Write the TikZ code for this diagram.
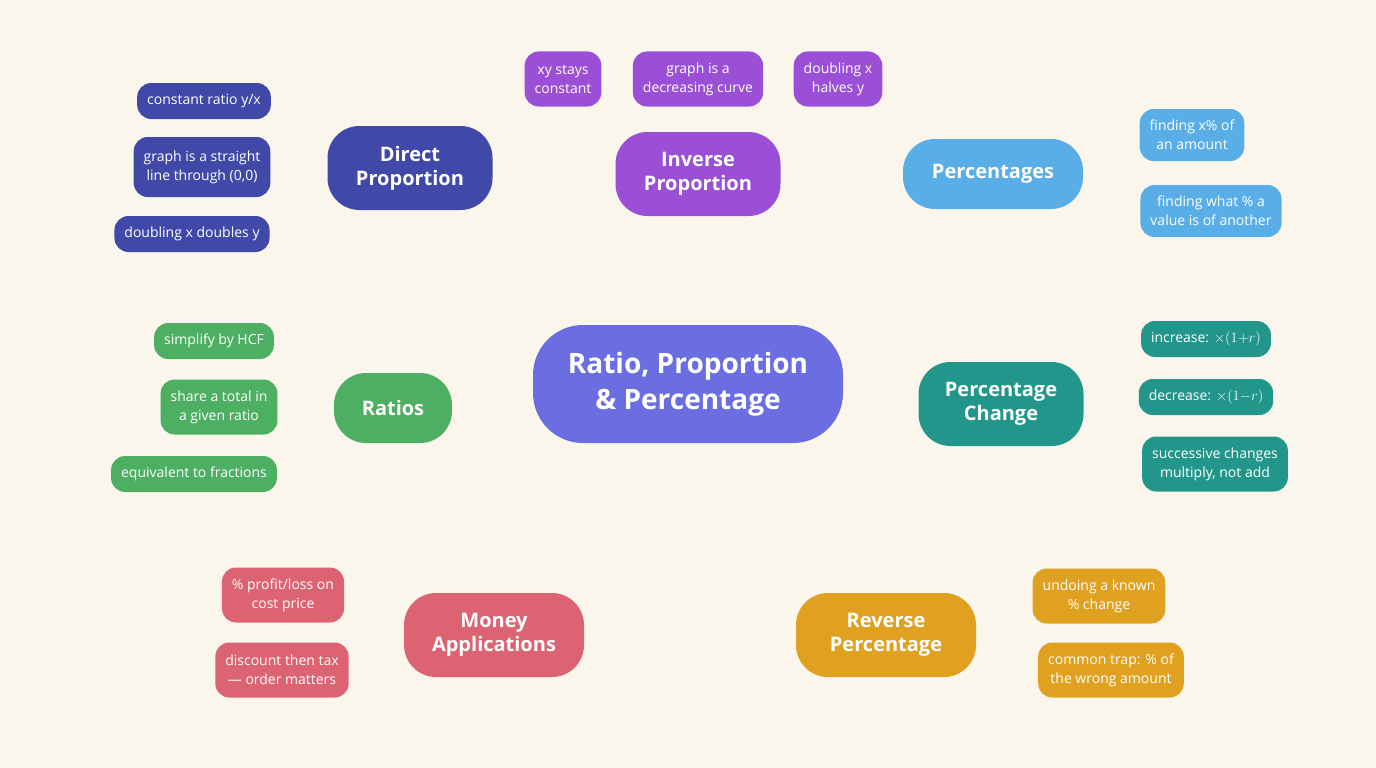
\documentclass[tikz,border=0pt]{standalone}
\usepackage{fontspec}
\setmainfont{Open Sans}
\usetikzlibrary{positioning,backgrounds}
\definecolor{bgc}{HTML}{FBF6EC}
\definecolor{cmain}{HTML}{6A6EE0}
\definecolor{cdp}{HTML}{4049A8}
\definecolor{cip}{HTML}{9A4FD6}
\definecolor{cpc}{HTML}{5AAEE8}
\definecolor{cch}{HTML}{22968A}
\definecolor{cra}{HTML}{4CAF62}
\definecolor{cma}{HTML}{DC6372}
\definecolor{crp}{HTML}{E0A020}
\tikzset{
  main node/.style = {rounded corners=32pt,fill=#1,text=white,align=center,font=\fontsize{20}{24}\selectfont\bfseries,minimum height=84pt,inner sep=6pt},
  leaf node/.style = {rounded corners=14pt,fill=#1,text=white,align=center,font=\fontsize{14}{19}\selectfont,minimum height=36pt,inner xsep=10pt},
  trunk/.style = {draw=#1,line width=10pt,line cap=round},
  twig/.style = {draw=#1,line width=4pt,line cap=round}
}
\begin{document}
\begin{tikzpicture}[x=1pt,y=-1pt]
\fill[bgc] (0,0) rectangle (1376,768);
\useasboundingbox (0,0) rectangle (1376,768);

\node[main node=cmain,minimum width=310pt,minimum height=118pt,rounded corners=50pt,font=\fontsize{28}{36}\selectfont\bfseries] (c) at (688,384) {Ratio, Proportion\\\& Percentage};

% main topics
\node[main node=cdp,minimum width=165pt] (dp) at (410,168) {Direct\\Proportion};
\node[main node=cip,minimum width=165pt] (ip) at (698,174) {Inverse\\Proportion};
\node[main node=cpc,minimum width=180pt,minimum height=70pt] (pc) at (993,174) {Percentages};
\node[main node=cch,minimum width=165pt] (ch) at (1001,404) {Percentage\\Change};
\node[main node=cra,minimum width=118pt,minimum height=70pt] (ra) at (393,408) {Ratios};
\node[main node=cma,minimum width=180pt] (ma) at (494,635) {Money\\Applications};
\node[main node=crp,minimum width=180pt] (rp) at (886,635) {Reverse\\Percentage};

% leaves
\node[leaf node=cdp] (dp1) at (204,101) {constant ratio y/x};
\node[leaf node=cdp,minimum height=60pt] (dp2) at (202,167) {graph is a straight\\line through (0,0)};
\node[leaf node=cdp] (dp3) at (192,234) {doubling x doubles y};

\node[leaf node=cip,minimum height=55pt] (ip1) at (563,79) {xy stays\\constant};
\node[leaf node=cip,minimum height=55pt] (ip2) at (698,79) {graph is a\\decreasing curve};
\node[leaf node=cip,minimum height=55pt] (ip3) at (838,79) {doubling x\\halves y};

\node[leaf node=cpc,minimum height=52pt] (pc1) at (1192,135) {finding x\% of\\an amount};
\node[leaf node=cpc,minimum height=52pt] (pc2) at (1211,211) {finding what \% a\\value is of another};

\node[leaf node=cch] (ch1) at (1206,339) {increase: $\times(1{+}r)$};
\node[leaf node=cch] (ch2) at (1206,397) {decrease: $\times(1{-}r)$};
\node[leaf node=cch,minimum height=55pt] (ch3) at (1215,464) {successive changes\\multiply, not add};

\node[leaf node=cra] (ra1) at (214,341) {simplify by HCF};
\node[leaf node=cra,minimum height=55pt] (ra2) at (219,407) {share a total in\\a given ratio};
\node[leaf node=cra] (ra3) at (194,474) {equivalent to fractions};

\node[leaf node=cma,minimum height=55pt] (ma1) at (283,595) {\% profit/loss on\\cost price};
\node[leaf node=cma,minimum height=55pt] (ma2) at (282,670) {discount then tax\\— order matters};

\node[leaf node=crp,minimum height=55pt] (rp1) at (1099,596) {undoing a known\\\% change};
\node[leaf node=crp,minimum height=55pt] (rp2) at (1111,670) {common trap: \% of\\the wrong amount};

\begin{scope}[on background layer]
\draw[trunk=cdp] (c.north west) ++(80,0) to[out=110,in=0] (dp.east);
\draw[trunk=cip] (c.north) ++(4,0) -- (ip.south);
\draw[trunk=cpc] (c.north east) ++(-80,0) to[out=70,in=180] (pc.west);
\draw[trunk=cch] (c.east) to[out=0,in=180] (ch.west);
\draw[trunk=cra] (c.west) to[out=180,in=0] (ra.east);
\draw[trunk=cma] (c.south) ++(-28,0) to[out=-100,in=0] (ma.east);
\draw[trunk=crp] (c.south) ++(28,0) to[out=-80,in=180] (rp.west);

\foreach \l in {dp1,dp2,dp3} \draw[twig=cdp] (dp.west) to[out=180,in=0] (\l.east);
\foreach \l in {ip1,ip2,ip3} \draw[twig=cip] (ip.north) to[out=90,in=-90] (\l.south);
\foreach \l in {pc1,pc2} \draw[twig=cpc] (pc.east) to[out=0,in=180] (\l.west);
\foreach \l in {ch1,ch2,ch3} \draw[twig=cch] (ch.east) to[out=0,in=180] (\l.west);
\foreach \l in {ra1,ra2,ra3} \draw[twig=cra] (ra.west) to[out=180,in=0] (\l.east);
\foreach \l in {ma1,ma2} \draw[twig=cma] (ma.west) to[out=180,in=0] (\l.east);
\foreach \l in {rp1,rp2} \draw[twig=crp] (rp.east) to[out=0,in=180] (\l.west);
\end{scope}
\end{tikzpicture}
\end{document}
